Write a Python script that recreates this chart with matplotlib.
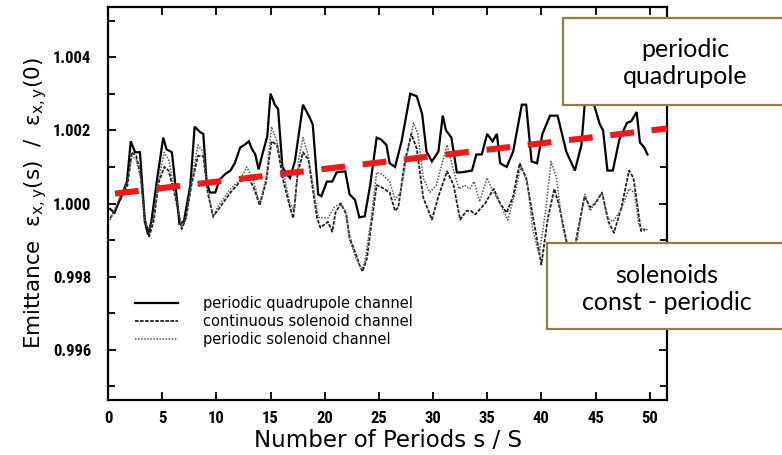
import matplotlib
matplotlib.use("Agg")
import matplotlib.pyplot as plt
from matplotlib.patches import Rectangle
from matplotlib.ticker import MultipleLocator, FormatStrFormatter
from matplotlib import font_manager

# ---------------- data ----------------
quad_pts = [
    (0.2, 0.99985), (0.6, 0.99975), (1.3, 1.00025), (1.75, 1.0006), (2.1, 1.0017),
    (2.5, 1.0014), (2.95, 1.0014), (3.4, 0.9995), (3.7, 0.99915), (4.0, 0.9995),
    (4.5, 1.0006), (5.1, 1.0018), (5.4, 1.00148), (5.9, 1.0014), (6.6, 0.99945),
    (7.0, 0.9995), (7.6, 1.0005), (8.0, 1.0021), (8.5, 1.00195), (8.8, 1.0019),
    (9.1, 1.0006), (9.4, 1.0003), (9.9, 1.0003), (10.3, 1.00065), (10.8, 1.0008),
    (11.3, 1.0009), (11.7, 1.0011), (12.2, 1.00153), (12.6, 1.0016), (13.0, 1.0017),
    (13.3, 1.00148), (13.6, 1.00134), (13.9, 1.00093), (14.3, 1.0014), (14.7, 1.00183),
    (15.0, 1.0030), (15.4, 1.0027), (15.7, 1.00258), (16.1, 1.0010), (16.5, 1.0008),
    (16.8, 1.0007), (17.25, 1.00115), (18.0, 1.0027), (18.6, 1.00236), (18.9, 1.00216),
    (19.4, 1.00025), (19.7, 1.0002), (20.2, 1.0006), (20.7, 1.0006), (21.1, 1.00085),
    (21.9, 1.00088), (22.3, 1.00025), (22.8, 1.0001), (23.2, 0.99962), (23.7, 0.99965),
    (24.2, 1.0005), (24.8, 1.0018), (25.2, 1.00175), (25.7, 1.0016), (26.0, 1.0011),
    (26.5, 1.0010), (27.1, 1.0017), (27.9, 1.0030), (28.5, 1.00293), (29.0, 1.00244),
    (29.4, 1.00142), (29.9, 1.00115), (30.5, 1.00142), (30.9, 1.0024), (31.2, 1.0020),
    (31.7, 1.0018), (32.2, 1.00085), (32.6, 1.00085), (33.6, 1.0009), (34.0, 1.00134),
    (34.5, 1.00134), (35.0, 1.0019), (35.5, 1.0017), (35.9, 1.0019), (36.2, 1.0011),
    (36.8, 1.0010), (37.4, 1.00142), (38.2, 1.0027), (38.6, 1.0027), (39.1, 1.00115),
    (39.6, 1.0011), (40.1, 1.0019), (40.8, 1.0024), (41.5, 1.0024), (42.3, 1.00142),
    (43.1, 1.0009), (43.7, 1.0016), (44.0, 1.0027), (44.4, 1.0030), (44.9, 1.00266),
    (45.4, 1.00216), (45.7, 1.0020), (46.1, 1.0009), (46.6, 1.0009), (47.2, 1.00175),
    (47.9, 1.0022), (48.3, 1.00225), (48.8, 1.0025), (49.1, 1.00167), (49.5, 1.00153),
    (49.8, 1.00134),
]

cont_sol_pts = [
    (0.2, 0.9996), (0.7, 0.99985), (1.3, 1.0002), (1.8, 1.0005), (2.2, 1.0014),
    (2.6, 1.0013), (3.0, 1.0008), (3.4, 0.9996), (3.8, 0.9991), (4.2, 0.9995),
    (4.7, 1.0006), (5.2, 1.0010), (5.6, 1.0009), (6.2, 1.0002), (6.8, 0.9993),
    (7.2, 0.9996), (7.7, 1.0005), (8.3, 1.0013), (8.8, 1.0013), (9.2, 1.0003),
    (9.7, 0.99965), (10.1, 0.9998), (11.3, 1.0003), (12.2, 1.0006), (13.0, 1.0007),
    (13.5, 1.0004), (14.0, 0.99995), (14.6, 1.0006), (15.1, 1.0017), (15.6, 1.0016),
    (16.2, 1.0006), (16.8, 0.9999), (17.1, 0.9996), (17.5, 1.0008), (18.0, 1.0014),
    (18.5, 1.0012), (19.3, 0.9996), (19.6, 0.99934), (20.3, 0.9995), (20.7, 0.99923),
    (21.0, 0.99975), (21.5, 1.0000), (22.0, 0.9997), (22.3, 0.99907), (22.8, 0.99868),
    (23.2, 0.99833), (23.5, 0.99814), (23.9, 0.9985), (24.3, 0.99942), (24.8, 1.0005),
    (25.2, 1.00045), (26.0, 1.0003), (26.5, 0.9998), (26.8, 0.9999), (27.4, 1.00115),
    (28.0, 1.0019), (28.5, 1.0015), (29.1, 1.00016), (29.9, 0.99956), (30.5, 1.0002),
    (31.3, 1.00088), (31.9, 1.0005), (32.5, 0.99956), (33.1, 0.9998), (33.5, 0.9998),
    (33.9, 0.9997), (34.8, 1.0000), (35.6, 1.0004), (36.2, 1.0000), (36.8, 0.99975),
    (37.4, 1.0002), (38.0, 1.0011), (38.6, 1.0007), (39.4, 0.99935), (40.0, 0.99833),
    (40.6, 0.9996), (41.2, 1.0004), (41.6, 1.0000), (42.3, 0.9990), (42.8, 0.9984),
    (43.2, 0.9990), (44.0, 1.0002), (44.5, 0.9999), (45.0, 1.0000), (45.6, 1.0003),
    (46.2, 0.9995), (46.7, 0.9992), (47.4, 0.9999), (48.1, 1.0009), (48.5, 1.0007),
    (49.2, 0.99925), (49.6, 0.9993),
]

per_sol_pts = [
    (0.2, 0.99955), (0.7, 0.9999), (1.3, 1.0003), (1.8, 1.0006), (2.2, 1.0013),
    (2.6, 1.0012), (3.0, 1.0007), (3.4, 0.9995), (3.8, 0.9993), (4.2, 0.9996),
    (4.7, 1.0007), (5.2, 1.0014), (5.6, 1.0012), (6.2, 1.0003), (6.8, 0.99935),
    (7.2, 0.9996), (7.7, 1.0006), (8.3, 1.0016), (8.8, 1.0014), (9.2, 1.0004),
    (9.7, 0.9996), (10.1, 0.9999), (11.3, 1.0004), (12.2, 1.00065), (12.8, 1.0010),
    (13.4, 1.00065), (14.0, 1.0000), (14.6, 1.0007), (15.1, 1.0021), (15.6, 1.0017),
    (16.2, 1.0008), (16.8, 1.0000), (17.2, 0.9998), (17.6, 1.0012), (18.0, 1.0018),
    (18.5, 1.0013), (19.4, 0.99962), (20.3, 0.9996), (20.9, 0.9999), (21.4, 1.0000),
    (21.9, 0.9998), (22.3, 0.9990), (22.9, 0.9985), (23.4, 0.9982), (23.7, 0.9984),
    (24.3, 0.9996), (24.8, 1.00085), (25.3, 1.0008), (26.0, 1.0006), (26.5, 1.0001),
    (27.0, 1.0003), (27.6, 1.0013), (28.2, 1.0022), (28.6, 1.0019), (29.1, 1.0007),
    (29.7, 1.0003), (30.3, 1.0005), (31.3, 1.0016), (31.9, 1.0009), (32.4, 1.0004),
    (32.9, 1.0005), (33.4, 1.0004), (33.8, 1.0006), (34.3, 1.00005), (35.0, 1.0007),
    (35.5, 1.00035), (36.1, 1.00005), (36.9, 0.99955), (37.5, 1.0002), (38.1, 1.0010),
    (38.7, 1.0006), (39.2, 0.9993), (39.8, 0.9986), (40.4, 0.9998), (40.9, 1.00115),
    (41.4, 1.0007), (42.0, 0.9993), (42.6, 0.9986), (43.3, 0.9990), (44.0, 1.00025),
    (44.5, 0.9998), (44.9, 1.0000), (45.6, 1.0003), (46.1, 0.9996), (46.6, 0.9995),
    (47.3, 0.9998), (48.1, 1.0004), (48.6, 1.0003), (49.0, 0.9994), (49.5, 0.99925),
    (49.8, 0.9993),
]

trend_s = [0.65, 51.6]
trend_v = [1.00027, 1.00205]

series_labels = ["periodic quadrupole channel",
                 "continuous solenoid channel",
                 "periodic solenoid channel"]
x_ticks = [0, 5, 10, 15, 20, 25, 30, 35, 40, 45, 50]
y_ticks = [0.996, 0.998, 1.000, 1.002, 1.004]
box_texts = ["periodic\nquadrupole", "solenoids\nconst - periodic"]

# ---------------- figure ----------------
W, H = 782, 455
fig = plt.figure(figsize=(W / 100, H / 100), dpi=100)
ax = fig.add_axes([108 / W, 55 / H, 559 / W, 393 / H])


def split(pts):
    return [p[0] for p in pts], [p[1] for p in pts]


qs, qv = split(quad_pts)
cs, cv = split(cont_sol_pts)
ps, pv = split(per_sol_pts)

l1, = ax.plot(qs, qv, color="black", lw=1.6, solid_joinstyle="miter")
l2, = ax.plot(cs, cv, color="#222222", lw=1.3, dashes=(2.0, 0.8))
l3, = ax.plot(ps, pv, color="#555555", lw=1.1, dashes=(1.0, 1.0))

ax.plot(trend_s, trend_v, color="#ee1a1a", lw=4.4, dashes=(3.9, 2.9),
        dash_capstyle="butt", zorder=5)

ax.set_xlim(0, 51.6)
ax.set_ylim(0.99463, 1.00537)

ax.set_xticks(x_ticks)
ax.set_yticks(y_ticks)
ax.yaxis.set_minor_locator(MultipleLocator(0.001))
ax.yaxis.set_major_formatter(FormatStrFormatter("%.3f"))
ax.tick_params(which="both", direction="in", top=True, right=True,
               width=1.3, color="black")
ax.tick_params(which="major", length=6)
ax.tick_params(which="minor", length=5)
ax.tick_params(axis="y", pad=12)
ax.tick_params(axis="x", pad=8)
tick_fp = font_manager.FontProperties(
    family=["Roboto Condensed", "Liberation Sans Narrow", "Liberation Sans", "DejaVu Sans"],
    weight="bold", size=12)
for lab in ax.get_xticklabels() + ax.get_yticklabels():
    lab.set_fontproperties(tick_fp)

for sp in ax.spines.values():
    sp.set_linewidth(1.6)

ax.set_xlabel("Number of Periods s / S", fontsize=16.5, labelpad=2)
ax.set_ylabel(r"Emittance  $\mathregular{\varepsilon_{x,y}}$(s)  /  $\mathregular{\varepsilon_{x,y}}$(0)",
              fontsize=15.5, labelpad=3)

leg = ax.legend([l1, l2, l3], series_labels, loc="upper left",
                bbox_to_anchor=(0.048, 0.265), frameon=False, fontsize=10.5,
                handlelength=2.95, handletextpad=1.7, labelspacing=0.2,
                borderpad=0, borderaxespad=0)

# ---------------- annotation boxes ----------------
edge = "#8b7f4e"
box1 = Rectangle((563 / W, 1 - 105 / H), 240 / W, 87 / H, transform=fig.transFigure,
                 facecolor="white", edgecolor=edge, lw=1.6, zorder=10, clip_on=False)
box2 = Rectangle((547 / W, 1 - 329 / H), 260 / W, 86 / H, transform=fig.transFigure,
                 facecolor="white", edgecolor=edge, lw=1.6, zorder=10, clip_on=False)
fig.add_artist(box1)
fig.add_artist(box2)

box_font = dict(family=["Lato", "DejaVu Sans"], size=18, color="black",
                ha="center", va="center", linespacing=1.25, zorder=11)
fig.text(685 / W, 1 - 63 / H, box_texts[0], **box_font)
fig.text(667 / W, 1 - 289 / H, box_texts[1], **box_font)

fig.savefig("out.png", dpi=100)
